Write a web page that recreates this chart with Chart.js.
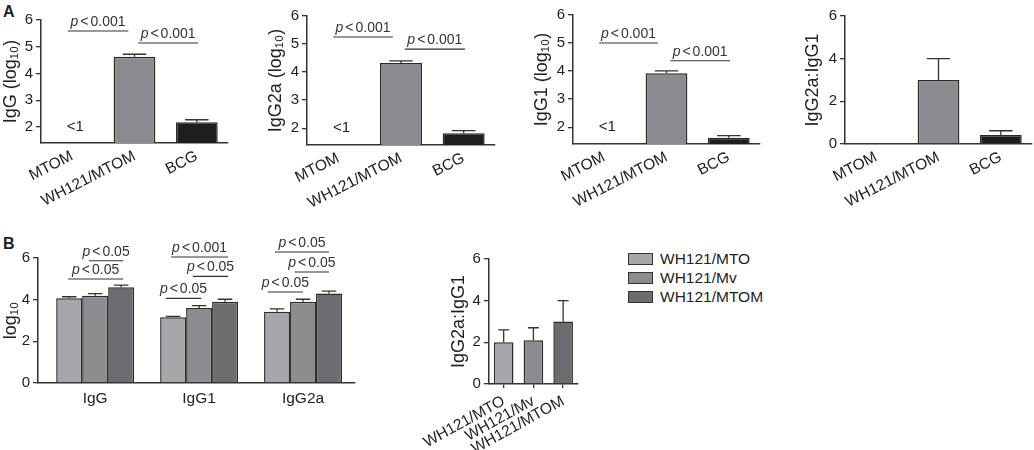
<!DOCTYPE html>
<html>
<head>
<meta charset="utf-8">
<script src="https://cdn.jsdelivr.net/npm/chart.js@4.4.1/dist/chart.umd.min.js"></script>
<style>
body{margin:0;background:#fff;width:1034px;height:450px;overflow:hidden;position:relative;font-family:"Liberation Sans",Arial,sans-serif;color:#222}
.panel{position:absolute}
.letra{position:absolute;font-weight:bold;font-size:16px;line-height:1}
.leyenda{position:absolute;left:628px;top:249px;font-size:15.5px}
.leyenda div{height:19px;display:flex;align-items:center}
.leyenda span{display:inline-block;width:23px;height:10px;border:1.5px solid #333;margin-right:7px}
</style>
</head>
<body>
<div class="letra" style="left:3px;top:4px">A</div>
<div class="letra" style="left:3px;top:236px">B</div>
<div class="panel" id="panelA1"><canvas></canvas></div>
<div class="panel" id="panelA2"><canvas></canvas></div>
<div class="panel" id="panelA3"><canvas></canvas></div>
<div class="panel" id="panelA4"><canvas></canvas></div>
<div class="panel" id="panelB1"><canvas></canvas></div>
<div class="panel" id="panelB2"><canvas></canvas></div>
<div class="leyenda" id="leyenda"></div>
<script>
// ---- datos ----
const gruposA = ['MTOM', 'WH121/MTOM', 'BCG']
const igGA = [null, 4.63, 2.18]
const igGAsem = [null, 0.09, 0.09]
const igG2aA = [null, 4.32, 1.82]
const igG2aAsem = [null, 0.08, 0.09]
const igG1A = [null, 3.92, 1.62]
const igG1Asem = [null, 0.09, 0.08]
const razonA = [null, 3.0, 0.42]
const razonAsem = [null, 1.0, 0.2]

const cepas = ['WH121/MTO', 'WH121/Mv', 'WH121/MTOM']
const isotipos = ['IgG', 'IgG1', 'IgG2a']
const mtoB = [4.07, 3.16, 3.42]
const mtoBsem = [0.07, 0.04, 0.14]
const mvB = [4.19, 3.6, 3.9]
const mvBsem = [0.1, 0.11, 0.12]
const mtomB = [4.6, 3.9, 4.3]
const mtomBsem = [0.1, 0.12, 0.11]
const razonB = [2.0, 2.1, 3.0]
const razonBsem = [0.6, 0.6, 1.0]

// comparaciones: desde / hasta en unidades de categoria, y = altura de la linea
const corchetesA1 = [{desde: -0.07, hasta: 0.9, y: 5.59, p: '<0.001'}, {desde: 1.06, hasta: 2.02, y: 5.14, p: '<0.001'}]
const corchetesA2 = [{desde: -0.08, hasta: 0.87, y: 5.25, p: '<0.001'}, {desde: 1.06, hasta: 2.02, y: 4.82, p: '<0.001'}]
const corchetesA3 = [{desde: -0.08, hasta: 0.86, y: 5.0, p: '<0.001'}, {desde: 1.06, hasta: 2.02, y: 4.37, p: '<0.001'}]
const corchetesB1 = [
    {desde: -0.26, hasta: 0.27, y: 4.99, p: '<0.05'},
    {desde: -0.06, hasta: 0.27, y: 5.87, p: '<0.05'},
    {desde: 0.68, hasta: 1.02, y: 4.06, p: '<0.05'},
    {desde: 0.94, hasta: 1.28, y: 5.12, p: '<0.05'},
    {desde: 0.73, hasta: 1.28, y: 6.05, p: '<0.001'},
    {desde: 1.66, hasta: 2.0, y: 4.37, p: '<0.05'},
    {desde: 1.92, hasta: 2.25, y: 5.33, p: '<0.05'},
    {desde: 1.73, hasta: 2.25, y: 6.29, p: '<0.05'}
]
const notaMenor = [{x: 0.05, y: 2, texto: '<1'}]

const coloresA = ['#ffffff', '#8a8b8e', '#1e1e1e']
const coloresB = ['#a6a7aa', '#8b8c90', '#6b6c70']
const fuente = '"Liberation Sans", Arial, sans-serif'

Chart.defaults.font.family = fuente
Chart.defaults.color = '#222'

function puntos(valores){
    return valores.map((v, i) => ({x: i, y: v}))
}

function extras(corchetes, notas){
    return {
        id: 'extras',
        afterDatasetsDraw(chart){
            const {ctx} = chart
            const ejeX = chart.scales.x
            const ejeY = chart.scales.y
            ctx.save()
            ctx.strokeStyle = '#333'
            ctx.lineWidth = 1.3
            // barras de error hacia arriba
            chart.data.datasets.forEach((ds, i) => {
                const meta = chart.getDatasetMeta(i)
                meta.data.forEach((barra, j) => {
                    const v = ds.data[j].y
                    if(v === null || !ds.sem || ds.sem[j] === null) return
                    const yCap = ejeY.getPixelForValue(v + ds.sem[j])
                    const media = barra.width * 0.28
                    ctx.beginPath()
                    ctx.moveTo(barra.x, barra.y)
                    ctx.lineTo(barra.x, yCap)
                    ctx.moveTo(barra.x - media, yCap)
                    ctx.lineTo(barra.x + media, yCap)
                    ctx.stroke()
                })
            })
            // lineas de significancia
            ctx.lineWidth = 1.1
            ctx.fillStyle = '#333'
            ctx.textBaseline = 'alphabetic'
            corchetes.forEach(c => {
                const x1 = ejeX.getPixelForValue(c.desde)
                const x2 = ejeX.getPixelForValue(c.hasta)
                const y = ejeY.getPixelForValue(c.y)
                ctx.beginPath()
                ctx.moveTo(x1, y)
                ctx.lineTo(x2, y)
                ctx.stroke()
                const resto = c.p.slice(1)
                ctx.font = 'italic 14px ' + fuente
                const wp = ctx.measureText('p').width
                ctx.font = '14px ' + fuente
                const wl = ctx.measureText('<').width
                const wr = ctx.measureText(resto).width
                let x = (x1 + x2) / 2 - (wp + wl + wr + 4) / 2
                ctx.textAlign = 'left'
                ctx.font = 'italic 14px ' + fuente
                ctx.fillText('p', x, y - 5)
                x += wp + 2
                ctx.font = '14px ' + fuente
                ctx.fillText('<', x, y - 5)
                x += wl + 2
                ctx.fillText(resto, x, y - 5)
            })
            ctx.fillStyle = '#222'
            ctx.font = '15px ' + fuente
            ctx.textAlign = 'center'
            ctx.textBaseline = 'middle'
            notas.forEach(n => {
                ctx.fillText(n.texto, ejeX.getPixelForValue(n.x), ejeY.getPixelForValue(n.y))
            })
            ctx.restore()
        }
    }
}

function crearPanel(cfg){
    const div = document.getElementById(cfg.id)
    const c = cfg.caja
    const a = cfg.area
    div.style.left = c.l + 'px'
    div.style.top = c.t + 'px'
    div.style.width = c.w + 'px'
    div.style.height = c.h + 'px'
    const canvas = div.querySelector('canvas')
    return new Chart(canvas, {
        type: 'bar',
        data: {datasets: cfg.series},
        plugins: [extras(cfg.corchetes || [], cfg.notas || [])],
        options: {
            responsive: true,
            maintainAspectRatio: false,
            animation: false,
            layout: {padding: {top: a.t - c.t, right: c.l + c.w - a.r, left: 0, bottom: 0}},
            plugins: {legend: {display: false}, tooltip: {enabled: false}},
            scales: {
                x: {
                    type: 'linear',
                    offset: false,
                    bounds: 'data',
                    min: cfg.xMin,
                    max: 2.5,
                    afterBuildTicks: s => { s.ticks = cfg.etiquetas.map((e, i) => ({value: i})) },
                    afterFit: s => { s.height = c.t + c.h - a.b },
                    grid: {display: !!cfg.marcasX, drawOnChartArea: false, drawTicks: !!cfg.marcasX, offset: false, tickLength: 4, color: '#333', lineWidth: 1.3},
                    border: {display: true, color: '#333', width: 1.5},
                    ticks: {autoSkip: false, minRotation: cfg.giro, maxRotation: cfg.giro, padding: cfg.giro ? 4 : 6, font: {size: 15.5}, color: '#222', callback: v => cfg.etiquetas[v]}
                },
                y: {
                    min: cfg.yMin,
                    max: 6,
                    afterBuildTicks: s => { s.ticks = s.ticks.filter(t => Number.isInteger(t.value)) },
                    afterFit: s => { s.width = a.l - c.l },
                    grid: {display: true, drawOnChartArea: false, drawTicks: true, tickLength: 5, color: '#333', lineWidth: 1.3},
                    border: {display: true, color: '#333', width: 1.5},
                    ticks: {stepSize: cfg.paso, padding: 3, font: {size: 15}, color: '#222'},
                    title: {display: true, text: cfg.titulo, font: {size: 18}, padding: 0, color: '#222'}
                }
            }
        }
    })
}

function serieA(valores, sem){
    return [{
        data: puntos(valores),
        sem: sem,
        backgroundColor: coloresA,
        borderColor: '#2a2a2a',
        borderWidth: 1.5,
        barPercentage: 0.67,
        categoryPercentage: 1
    }]
}

crearPanel({id: 'panelA1', caja: {l: 0, t: 0, w: 250, h: 215}, area: {l: 41, r: 228, t: 20, b: 143},
    xMin: -0.5, yMin: 1.4, paso: 1, giro: 27, etiquetas: gruposA, titulo: 'IgG (log₁₀)',
    series: serieA(igGA, igGAsem), corchetes: corchetesA1, notas: notaMenor})
crearPanel({id: 'panelA2', caja: {l: 265, t: 0, w: 250, h: 215}, area: {l: 307, r: 495, t: 16, b: 145},
    xMin: -0.5, yMin: 1.4, paso: 1, giro: 27, etiquetas: gruposA, titulo: 'IgG2a (log₁₀)',
    series: serieA(igG2aA, igG2aAsem), corchetes: corchetesA2, notas: notaMenor})
crearPanel({id: 'panelA3', caja: {l: 531, t: 0, w: 245, h: 215}, area: {l: 573, r: 760, t: 15, b: 144},
    xMin: -0.5, yMin: 1.4, paso: 1, giro: 27, etiquetas: gruposA, titulo: 'IgG1 (log₁₀)',
    series: serieA(igG1A, igG1Asem), corchetes: corchetesA3, notas: notaMenor})
crearPanel({id: 'panelA4', caja: {l: 802, t: 0, w: 232, h: 215}, area: {l: 845, r: 1032, t: 16, b: 144},
    xMin: -0.5, yMin: 0, paso: 2, giro: 27, etiquetas: gruposA, titulo: 'IgG2a:IgG1',
    series: serieA(razonA, razonAsem)})

const valoresB = [mtoB, mvB, mtomB]
const semB = [mtoBsem, mvBsem, mtomBsem]
crearPanel({id: 'panelB1', caja: {l: 0, t: 225, w: 370, h: 225}, area: {l: 38, r: 355, t: 258, b: 383},
    xMin: -0.55, yMin: 0, paso: 2, giro: 0, etiquetas: isotipos, titulo: 'log₁₀',
    series: cepas.map((cepa, i) => ({
        label: cepa,
        data: puntos(valoresB[i]),
        sem: semB[i],
        backgroundColor: coloresB[i],
        borderColor: '#2a2a2a',
        borderWidth: 1.5,
        barPercentage: 1,
        categoryPercentage: 0.75
    })),
    corchetes: corchetesB1})
crearPanel({id: 'panelB2', caja: {l: 414, t: 225, w: 180, h: 225}, area: {l: 455, r: 578, t: 259, b: 384},
    xMin: -0.5, yMin: 0, paso: 2, giro: 29, etiquetas: cepas, titulo: 'IgG2a:IgG1', marcasX: true,
    series: [{
        data: puntos(razonB),
        sem: razonBsem,
        backgroundColor: coloresB,
        borderColor: '#2a2a2a',
        borderWidth: 1.5,
        barPercentage: 0.66,
        categoryPercentage: 1
    }]})

// leyenda
let html = ``
cepas.forEach((cepa, i) => {
    html += `<div><span style="background:${coloresB[i]}"></span>${cepa}</div>`
})
document.getElementById('leyenda').innerHTML = html
</script>
</body>
</html>
